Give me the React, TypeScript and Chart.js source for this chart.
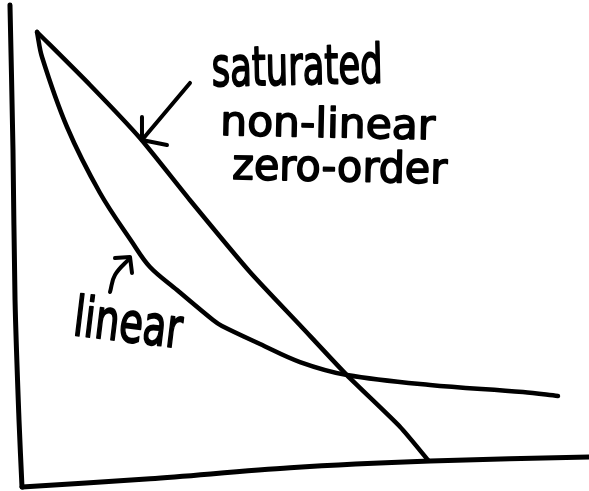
import { useEffect, useRef } from "react";
import { Chart, registerables } from "chart.js";

Chart.register(...registerables);

// Hand-drawn axes
const yAxisX = [-0.212, -0.159, -0.123, -0.053, 0];
const yAxisY = [10.04, 7.02, 3.9, 1.4, 0];
const xAxisX = [0, 2.26, 4.73, 7.2, 10.0];
const xAxisY = [0, 0.17, 0.4, 0.54, 0.625];

// "saturated non-linear zero-order" curve
const zeroOrderX = [0.265, 1.2, 2.08, 2.96, 4.02, 4.9, 5.73, 6.67, 7.16];
const zeroOrderY = [9.48, 8.375, 7.27, 5.98, 4.48, 3.375, 2.33, 1.25, 0.5625];

// "linear" curve
const linearX = [0.265, 0.353, 0.794, 1.376, 1.94, 2.257, 2.734, 3.369, 3.527, 4.198, 4.903, 5.732, 7.196, 8.836, 9.453];
const linearY = [9.48, 8.958, 7.5, 6.125, 5.104, 4.583, 4.104, 3.479, 3.354, 2.979, 2.604, 2.333, 2.125, 1.979, 1.896];

// Arrows
const arrow1ShaftX = [2.963, 2.116];
const arrow1ShaftY = [8.417, 7.229];
const arrow1HeadX = [2.116, 2.116, 2.557];
const arrow1HeadY = [7.708, 7.229, 7.125];
const arrow2ShaftX = [1.552, 1.64, 1.905];
const arrow2ShaftY = [4.0625, 4.417, 4.771];
const arrow2HeadX = [1.64, 1.905, 1.94];
const arrow2HeadY = [4.771, 4.792, 4.458];

// Text labels
const zeroOrderLabels = ["saturated", "non-linear", "zero-order"];
const linearLabels = ["linear"];

const pts = (xs: number[], ys: number[]) => xs.map((x, i) => ({ x, y: ys[i] }));

export default function App() {
  const ref = useRef<HTMLCanvasElement | null>(null);

  useEffect(() => {
    if (!ref.current) return;
    const line = (xs: number[], ys: number[], tension: number, width = 4.5) => ({
      data: pts(xs, ys),
      showLine: true,
      borderColor: "#000",
      borderWidth: width,
      pointRadius: 0,
      tension,
      clip: false as any,
      borderCapStyle: "round" as const,
      borderJoinStyle: "round" as const,
    });

    const boxes = [
      { text: zeroOrderLabels[0], left: 212, right: 383, top: 44, base: 86, rot: -0.02 },
      { text: zeroOrderLabels[1], left: 220, right: 435, top: 103, base: 135, rot: 0.02 },
      { text: zeroOrderLabels[2], left: 232, right: 447, top: 146, base: 179, rot: 0.02 },
      { text: linearLabels[0], left: 72, right: 180, top: 292, base: 335, rot: 0.12 },
    ];

    const textPlugin = {
      id: "handLabels",
      afterDatasetsDraw(chart: any) {
        const ctx = chart.ctx as CanvasRenderingContext2D;
        boxes.forEach((b) => {
          ctx.save();
          ctx.font = "40px 'DejaVu Sans'";
          ctx.textBaseline = "alphabetic";
          ctx.textAlign = "left";
          const m = ctx.measureText(b.text);
          const sx = (b.right - b.left) / Math.cos(b.rot) / m.width;
          const sy = (b.base - b.top) / m.actualBoundingBoxAscent;
          ctx.translate(b.left, b.base);
          ctx.rotate(b.rot);
          ctx.scale(sx, sy);
          ctx.fillStyle = "#000";
          ctx.strokeStyle = "#000";
          ctx.lineJoin = "round";
          ctx.lineWidth = 1.6 / ((sx + sy) / 2);
          ctx.fillText(b.text, 0, 0);
          ctx.strokeText(b.text, 0, 0);
          ctx.restore();
        });
      },
    };

    const chart = new Chart(ref.current, {
      type: "scatter",
      data: {
        datasets: [
          line(yAxisX, yAxisY, 0.3, 5),
          line(xAxisX, xAxisY, 0.3, 5),
          line(zeroOrderX, zeroOrderY, 0.2),
          line(linearX, linearY, 0.35),
          line(arrow1ShaftX, arrow1ShaftY, 0, 4),
          line(arrow1HeadX, arrow1HeadY, 0, 4),
          line(arrow2ShaftX, arrow2ShaftY, 0.4, 4),
          line(arrow2HeadX, arrow2HeadY, 0, 4),
        ] as any,
      },
      options: {
        animation: false,
        responsive: false,
        devicePixelRatio: 1,
        layout: { padding: 0 },
        plugins: { legend: { display: false }, tooltip: { enabled: false } },
        scales: {
          x: { type: "linear", min: -0.388, max: 10, display: false },
          y: { type: "linear", min: -0.0833, max: 10.146, display: false },
        },
      },
      plugins: [textPlugin],
    });
    return () => chart.destroy();
  }, []);

  return (
    <div style={{ position: "fixed", left: 0, top: 0, width: 589, height: 491, background: "#fff" }}>
      <canvas ref={ref} width={589} height={491} style={{ display: "block" }} />
    </div>
  );
}
